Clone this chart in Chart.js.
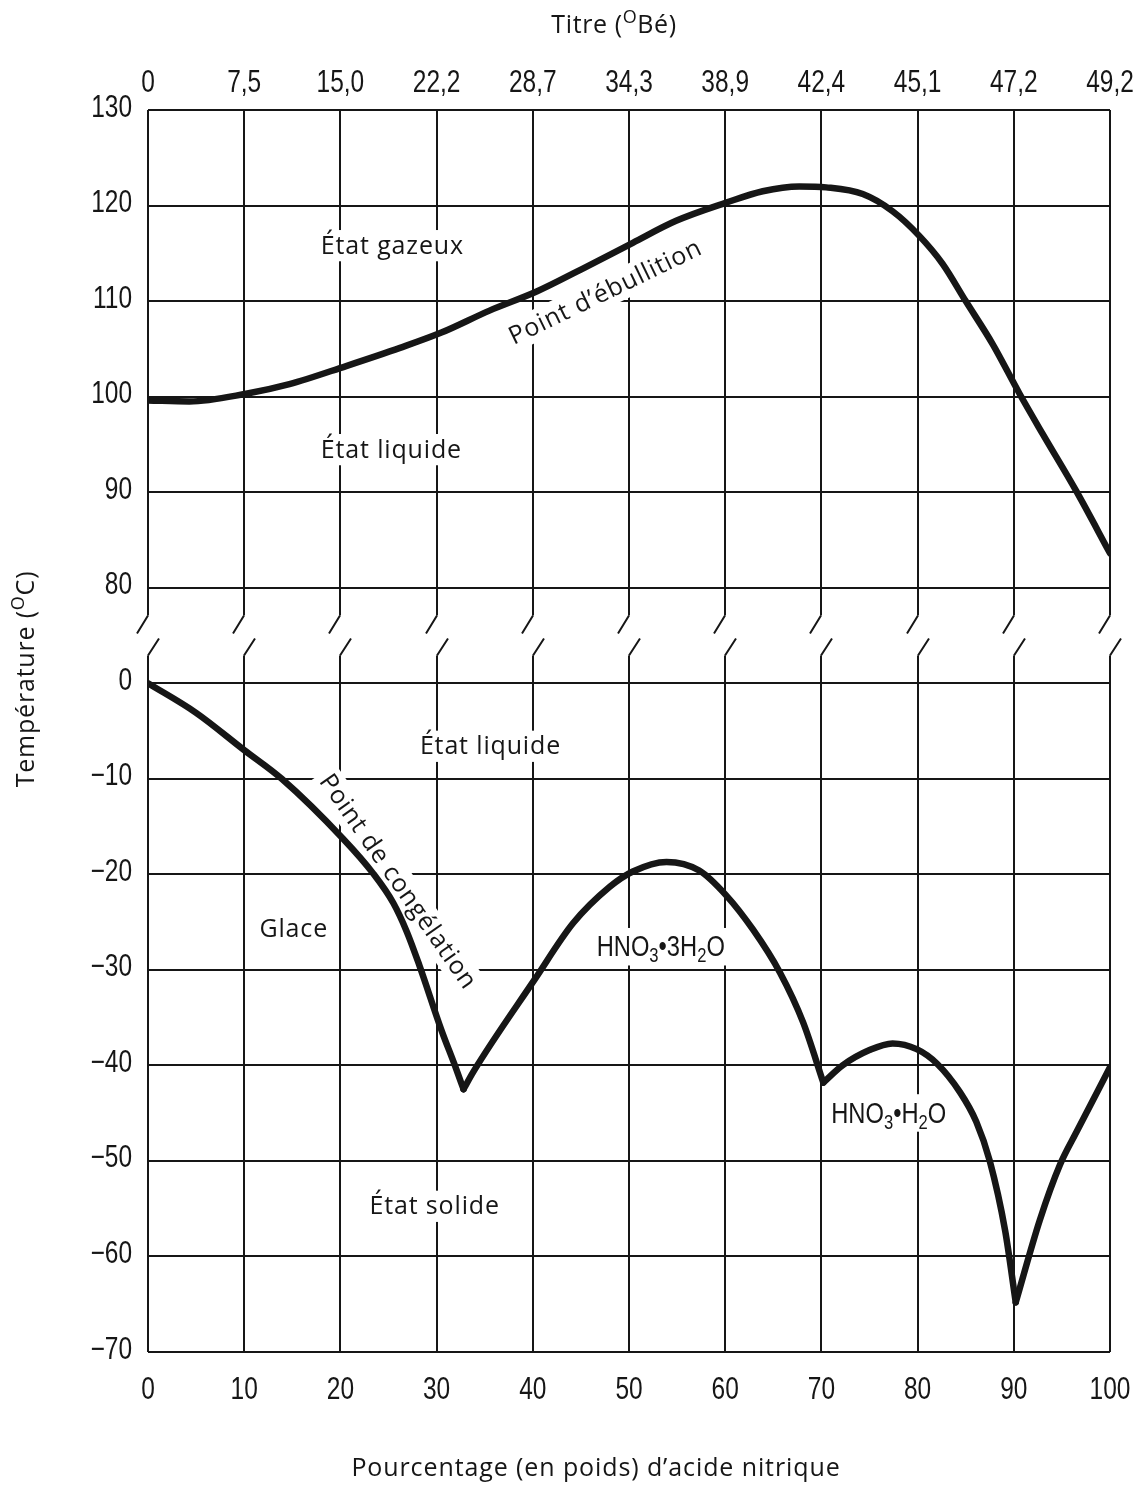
<!DOCTYPE html>
<html lang="fr">
<head>
<meta charset="utf-8">
<title>Acide nitrique : points d'ébullition et de congélation</title>
<script src="https://cdn.jsdelivr.net/npm/chart.js@4/dist/chart.umd.min.js"></script>
<style>
  html, body { margin: 0; padding: 0; background: #fff; }
  canvas { display: block; }
</style>
</head>
<body>
<canvas id="diagram" width="1146" height="1486"></canvas>
<script>
// Bottom axis: weight percentage of nitric acid; top axis: the matching Baumé titre
const percentTicks = [0, 10, 20, 30, 40, 50, 60, 70, 80, 90, 100];
const baumeLabels = ['0', '7,5', '15,0', '22,2', '28,7', '34,3', '38,9', '42,4', '45,1', '47,2', '49,2'];

// Temperature ticks below and above the axis break (°C)
const lowTempTicks = [-70, -60, -50, -40, -30, -20, -10, 0];
const highTempTicks = [80, 90, 100, 110, 120, 130];

// Boiling point curve
const boilPct  = [0, 4.3, 10.2, 14.7, 20.6, 26.2, 30.5, 35.5, 40.4, 45, 50.4, 54.9, 60.1, 63.9, 67.7, 70.5, 74.3, 77.4, 80.2, 82.6, 85.0, 87.8, 90.6, 93.0, 96.5, 100];
const boilTemp = [99.6, 99.5, 100.3, 101.3, 103.2, 105.1, 106.7, 109.0, 111.0, 113.3, 116.1, 118.4, 120.3, 121.5, 122.0, 121.9, 121.2, 119.4, 116.8, 113.9, 110.0, 105.5, 100.3, 96.1, 90.1, 83.6];

// Freezing point curve, one branch per crystallising solid
const icePct   = [0, 5, 10, 13.9, 20.3, 23.4, 25.5, 26.9, 28.2, 30.5, 31.9, 32.8];
const iceTemp  = [0, -3.1, -7.0, -10.0, -16.3, -19.9, -23.0, -26.0, -29.5, -36.3, -40.0, -42.5];
const trihydratePct  = [32.8, 33.8, 40.2, 44.2, 48.0, 50.4, 53.9, 57.3, 60.1, 62.9, 65.7, 68.1, 70.2];
const trihydrateTemp = [-42.5, -40.7, -31.0, -25.1, -21.3, -19.7, -18.7, -19.6, -22.2, -25.8, -30.3, -35.5, -41.8];
const monohydratePct  = [70.2, 72.2, 75.0, 77.4, 79.9, 82.0, 84.4, 86.1, 87.5, 89.1, 90.2];
const monohydrateTemp = [-41.8, -40.0, -38.4, -37.7, -38.3, -39.8, -42.8, -45.9, -50.0, -57.3, -64.8];
const anhydrousPct  = [90.2, 92.7, 94.8, 96.5, 100];
const anhydrousTemp = [-64.8, -56.2, -50.4, -47.0, -40.2];

const INK = '#161616';
const SANS = "'Open Sans', 'Noto Sans', sans-serif";
const NARROW = "'Liberation Sans', Arial, sans-serif";
const SQUEEZE = 0.79;      // horizontal compression giving a condensed face
const TICK_SIZE = 31;
const FORMULA_SIZE = 30;

// The temperature axis is broken between 0 and 80 °C: the upper block is
// shifted down so that 80 °C sits one step above 0 °C.
const LOW_TOP = lowTempTicks[lowTempTicks.length - 1];
const STEP = 10;
const SHIFT = highTempTicks[0] - (LOW_TOP + STEP);
const toAxis = t => (t > LOW_TOP + STEP / 2 ? t - SHIFT : t);
const fromAxis = v => (v > LOW_TOP + STEP / 2 ? v + SHIFT : v);
const axisTicks = [...lowTempTicks, ...highTempTicks].map(toAxis);

const branch = (pcts, temps) => pcts.map((p, i) => ({ x: p, y: toAxis(temps[i]) }));

// Text placed on the diagram: anchor given as (percentage, temperature)
const annotations = [
  { parts: [{ t: 'État gazeux' }], x: 25.4, t: 114.95 },
  { parts: [{ t: 'État liquide' }], x: 25.3, t: 93.6 },
  { parts: [{ t: 'Point d’ébullition' }], x: 47.9, t: 110.2, angle: -25.8 },
  { parts: [{ t: 'État liquide' }], x: 35.6, t: -7.45 },
  { parts: [{ t: 'Point de congélation' }], x: 26.1, t: -20.7, angle: 55.1, middle: true },
  { parts: [{ t: 'Glace' }], x: 15.15, t: -26.6 },
  { parts: [{ t: 'HNO' }, { t: '3', sub: true }, { t: '•' }, { t: '3H' }, { t: '2', sub: true }, { t: 'O' }], x: 53.3, t: -28.6, narrow: true },
  { parts: [{ t: 'HNO' }, { t: '3', sub: true }, { t: '•' }, { t: 'H' }, { t: '2', sub: true }, { t: 'O' }], x: 77.0, t: -46.0, narrow: true },
  { parts: [{ t: 'État solide' }], x: 29.8, t: -55.6 }
];

// Draws a run of text pieces (with sub/superscripts) centred on (0, 0)
function richText(ctx, parts, family, size, opts = {}) {
  const sx = opts.squeeze || 1;
  const spacing = opts.spacing || '0px';
  const pieces = parts.map(p => {
    const s = p.sub || p.sup ? Math.round(size * 0.7) : size;
    const dy = p.sub ? size * 0.2 : p.sup ? -size * 0.42 : 0;
    const font = `${s}px ${family}`;
    ctx.font = font;
    ctx.letterSpacing = spacing;
    return { t: p.t, font, dy, w: ctx.measureText(p.t).width * sx };
  });
  const width = pieces.reduce((a, p) => a + p.w, 0);
  const baseY = opts.middle ? size * 0.36 : 0;
  if (opts.box) {
    ctx.fillStyle = '#fff';
    ctx.fillRect(-width / 2 - 5, baseY - size * 0.95, width + 10, size * 1.25);
  }
  ctx.fillStyle = INK;
  ctx.textAlign = 'left';
  ctx.textBaseline = 'alphabetic';
  let cx = -width / 2;
  pieces.forEach(p => {
    ctx.save();
    ctx.font = p.font;
    ctx.letterSpacing = spacing;
    ctx.translate(cx, baseY + p.dy);
    ctx.scale(sx, 1);
    ctx.fillText(p.t, 0, 0);
    ctx.restore();
    cx += p.w;
  });
  ctx.letterSpacing = '0px';
  return width;
}

// Tick label in the condensed face, anchored at (x, y)
function narrowLabel(ctx, text, x, y, align) {
  ctx.save();
  ctx.translate(x, y);
  ctx.scale(SQUEEZE, 1);
  ctx.font = `${TICK_SIZE}px ${NARROW}`;
  ctx.fillStyle = INK;
  ctx.textAlign = align;
  ctx.textBaseline = 'middle';
  ctx.fillText(text, 0, 0);
  ctx.restore();
}

const diagramPlugin = {
  id: 'diagramDecor',
  beforeDatasetsDraw(chart) {
    const { ctx, chartArea: a, scales: { x, y } } = chart;
    ctx.save();
    // Axis break marks between 0 °C and 80 °C
    const mid = y.getPixelForValue(LOW_TOP + STEP / 2);
    ctx.fillStyle = '#fff';
    ctx.fillRect(a.left - 16, mid - 20, a.right - a.left + 32, 40);
    ctx.strokeStyle = INK;
    ctx.lineWidth = 2;
    percentTicks.forEach(p => {
      const px = Math.round(x.getPixelForValue(p));
      ctx.beginPath();
      ctx.moveTo(px, mid - 20);
      ctx.lineTo(px - 11, mid - 2);
      ctx.moveTo(px + 11, mid + 3);
      ctx.lineTo(px, mid + 20);
      ctx.stroke();
    });
    // Region and curve labels, on a white ground that interrupts the grid
    annotations.forEach(n => {
      ctx.save();
      ctx.translate(x.getPixelForValue(n.x), y.getPixelForValue(toAxis(n.t)));
      if (n.angle) ctx.rotate(n.angle * Math.PI / 180);
      if (n.narrow) richText(ctx, n.parts, NARROW, FORMULA_SIZE, { box: true, squeeze: SQUEEZE });
      else richText(ctx, n.parts, SANS, 25, { box: true, middle: n.middle, spacing: '0.85px' });
      ctx.restore();
    });
    ctx.restore();
  },
  afterDraw(chart) {
    const { ctx, chartArea: a, scales: { x, xTop, y } } = chart;
    // Tick labels of the three axes, in the condensed face
    y.ticks.forEach((tk, i) => narrowLabel(ctx, tk.label, a.left - 16, y.getPixelForTick(i) - 2, 'right'));
    x.ticks.forEach((tk, i) => narrowLabel(ctx, tk.label, x.getPixelForTick(i), a.bottom + 38, 'center'));
    xTop.ticks.forEach((tk, i) => narrowLabel(ctx, tk.label, xTop.getPixelForTick(i), a.top - 27, 'center'));

    ctx.save();
    // Top axis title
    ctx.translate(614, 33);
    richText(ctx, [{ t: 'Titre (' }, { t: 'O', sup: true }, { t: 'Bé)' }], SANS, 25, { spacing: '0.6px' });
    ctx.restore();
    ctx.save();
    // Left axis title, reading upwards
    ctx.translate(34, 679);
    ctx.rotate(-Math.PI / 2);
    richText(ctx, [{ t: 'Température (' }, { t: 'O', sup: true }, { t: 'C)' }], SANS, 25, { spacing: '0.8px' });
    ctx.restore();
    ctx.save();
    // Bottom axis title
    ctx.translate(596, 1476);
    richText(ctx, [{ t: 'Pourcentage (en poids) d’acide nitrique' }], SANS, 25, { spacing: '0.9px' });
    ctx.restore();
  }
};

const curveStyle = {
  borderColor: INK,
  borderWidth: 6.5,
  pointRadius: 0,
  pointHoverRadius: 0,
  fill: false,
  cubicInterpolationMode: 'monotone',
  borderCapStyle: 'round',
  borderJoinStyle: 'round'
};

// Chart.js keeps the tick labels for layout; they are painted by the plugin
const hiddenTicks = { font: { family: NARROW, size: TICK_SIZE }, color: 'rgba(0,0,0,0)', autoSkip: false, maxRotation: 0 };
const noEdgePadding = s => { s.paddingLeft = 0; s.paddingRight = 0; s.paddingTop = 0; s.paddingBottom = 0; };

new Chart(document.getElementById('diagram'), {
  type: 'line',
  data: {
    datasets: [
      { label: 'Point d’ébullition', data: branch(boilPct, boilTemp), ...curveStyle },
      { label: 'Glace', data: branch(icePct, iceTemp), ...curveStyle },
      { label: 'HNO3·3H2O', data: branch(trihydratePct, trihydrateTemp), ...curveStyle },
      { label: 'HNO3·H2O', data: branch(monohydratePct, monohydrateTemp), ...curveStyle },
      { label: 'HNO3', data: branch(anhydrousPct, anhydrousTemp), ...curveStyle }
    ]
  },
  options: {
    responsive: false,
    animation: false,
    events: [],
    layout: { padding: { left: 0, right: 36, top: 0, bottom: 0 } },
    plugins: { legend: { display: false }, tooltip: { enabled: false } },
    scales: {
      x: {
        type: 'linear',
        position: 'bottom',
        min: 0,
        max: 100,
        afterBuildTicks: s => { s.ticks = percentTicks.map(v => ({ value: v })); },
        afterFit: s => { s.height = 134; noEdgePadding(s); },
        grid: { color: INK, lineWidth: 2, drawTicks: false },
        border: { display: false },
        ticks: { ...hiddenTicks, padding: 20 }
      },
      xTop: {
        type: 'linear',
        position: 'top',
        min: 0,
        max: 100,
        afterBuildTicks: s => { s.ticks = percentTicks.map(v => ({ value: v })); },
        afterFit: s => { s.height = 110; noEdgePadding(s); },
        grid: { display: false, drawTicks: false },
        border: { display: false },
        ticks: { ...hiddenTicks, padding: 11, callback: (v, i) => baumeLabels[i] }
      },
      y: {
        type: 'linear',
        min: toAxis(lowTempTicks[0]),
        max: toAxis(highTempTicks[highTempTicks.length - 1]),
        afterBuildTicks: s => { s.ticks = axisTicks.map(v => ({ value: v })); },
        afterFit: s => { s.width = 148; noEdgePadding(s); },
        grid: { color: INK, lineWidth: 2, drawTicks: false },
        border: { display: false },
        ticks: {
          ...hiddenTicks,
          padding: 17,
          callback: v => {
            const t = fromAxis(v);
            return t < 0 ? '−' + Math.abs(t) : String(t);
          }
        }
      }
    }
  },
  plugins: [diagramPlugin]
});
</script>
</body>
</html>
